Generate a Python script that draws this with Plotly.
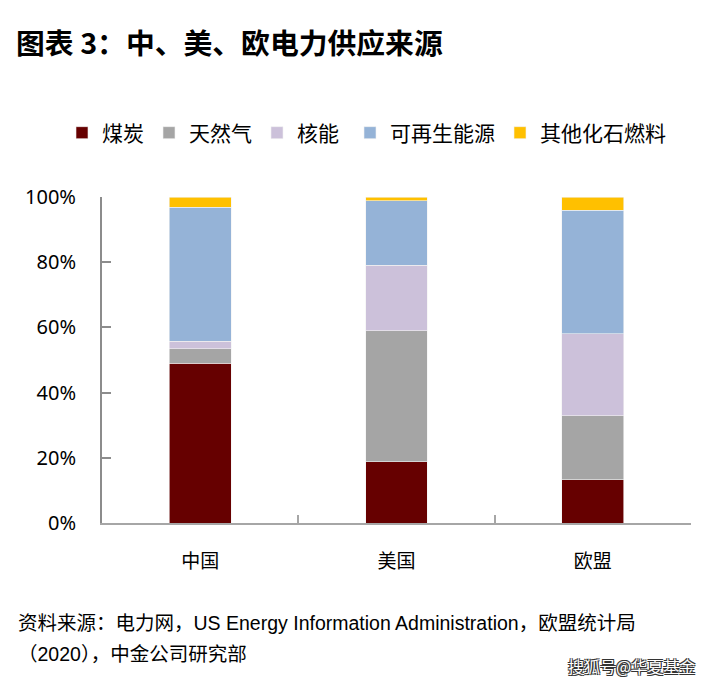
import plotly.graph_objects as go

categories = ["中国", "美国", "欧盟"]
series_names = ["煤炭", "天然气", "核能", "可再生能源", "其他化石燃料"]
coal = [49.0, 18.8, 13.2]
gas = [4.4, 40.1, 19.7]
nuclear = [2.4, 20.1, 25.1]
renewable = [41.0, 19.9, 38.0]
other_fossil = [3.1, 1.1, 4.0]
colors = ["#660000", "#A5A5A5", "#CCC1DA", "#95B3D7", "#FFC000"]
legend_groups = ["legend", "legend", "legend", "legend2", "legend2"]
y_tickvals = [0, 20, 40, 60, 80, 100]
y_ticktext = ["0%", "20%", "40%", "60%", "80%", "100%"]

CJK = "Noto Sans CJK SC"
W, H = 707, 684

fig = go.Figure()
for name, vals, col, lg in zip(series_names, [coal, gas, nuclear, renewable, other_fossil], colors, legend_groups):
    fig.add_trace(go.Bar(
        x=categories, y=vals, name=name, legend=lg,
        marker=dict(color=col, line=dict(color="#F2F2F2", width=0.6)),
        width=0.315,
    ))

legend_common = dict(
    orientation="h", xref="container", yref="container",
    y=1 - 133 / H, xanchor="left", yanchor="middle",
    font=dict(family=CJK, size=21, color="#000000"),
    traceorder="normal", itemclick=False, itemdoubleclick=False,
    bgcolor="rgba(0,0,0,0)",
)

fig.update_layout(
    barmode="stack",
    width=W, height=H,
    paper_bgcolor="white", plot_bgcolor="white",
    margin=dict(l=102, r=16, t=197, b=161),
    showlegend=True,
    legend=dict(x=62 / W, **legend_common),
    legend2=dict(x=350 / W, **legend_common),
    font=dict(family=CJK, color="#000000"),
    title=dict(
        text="<b>图表 3：中、美、欧电力供应来源</b>",
        x=16 / W, xref="container", xanchor="left",
        y=1 - 44 / H, yref="container", yanchor="middle",
        font=dict(family=CJK, size=28.8, color="#000000"),
    ),
)

fig.update_yaxes(
    range=[0, 100], tickvals=y_tickvals, ticktext=y_ticktext,
    showgrid=False, zeroline=False,
    showline=True, linecolor="#8C8C8C", linewidth=2,
    ticks="inside", ticklen=9, tickwidth=2, tickcolor="#8C8C8C",
    ticklabelstandoff=20,
    tickfont=dict(family="Noto Sans", size=20, color="#000000"),
)
fig.update_xaxes(
    showgrid=False, zeroline=False,
    showline=True, linecolor="#A6A6A6", linewidth=2,
    ticks="inside", tickson="boundaries", ticklen=8, tickwidth=2, tickcolor="#A6A6A6",
    ticklabelstandoff=20,
    tickfont=dict(family=CJK, size=19, color="#000000"),
)

foot_font = dict(family="Liberation Sans, " + CJK, size=19.5, color="#000000")
fig.add_annotation(
    text="资料来源：电力网，US Energy Information Administration，欧盟统计局",
    xref="paper", yref="paper", x=-86 / 589, y=-(623 - 523) / 326,
    xanchor="left", yanchor="middle", showarrow=False, font=foot_font,
)
fig.add_annotation(
    text="（2020），中金公司研究部",
    xref="paper", yref="paper", x=-86 / 589, y=-(654 - 523) / 326,
    xanchor="left", yanchor="middle", showarrow=False, font=foot_font,
)
fig.add_annotation(
    text="搜狐号@华夏基金",
    xref="paper", yref="paper", x=(697 - 102) / 589, y=-(666 - 523) / 326,
    xanchor="right", yanchor="middle", showarrow=False,
    font=dict(family=CJK, size=16, color="#FFFFFF",
              shadow="1px 1px 0 #333, -1px -1px 0 #333, 1px -1px 0 #333, -1px 1px 0 #333"),
)

fig.write_html(
    "out.html",
    config={"displayModeBar": False},
    post_script="document.body.style.margin='0';document.body.style.overflow='hidden';",
)
